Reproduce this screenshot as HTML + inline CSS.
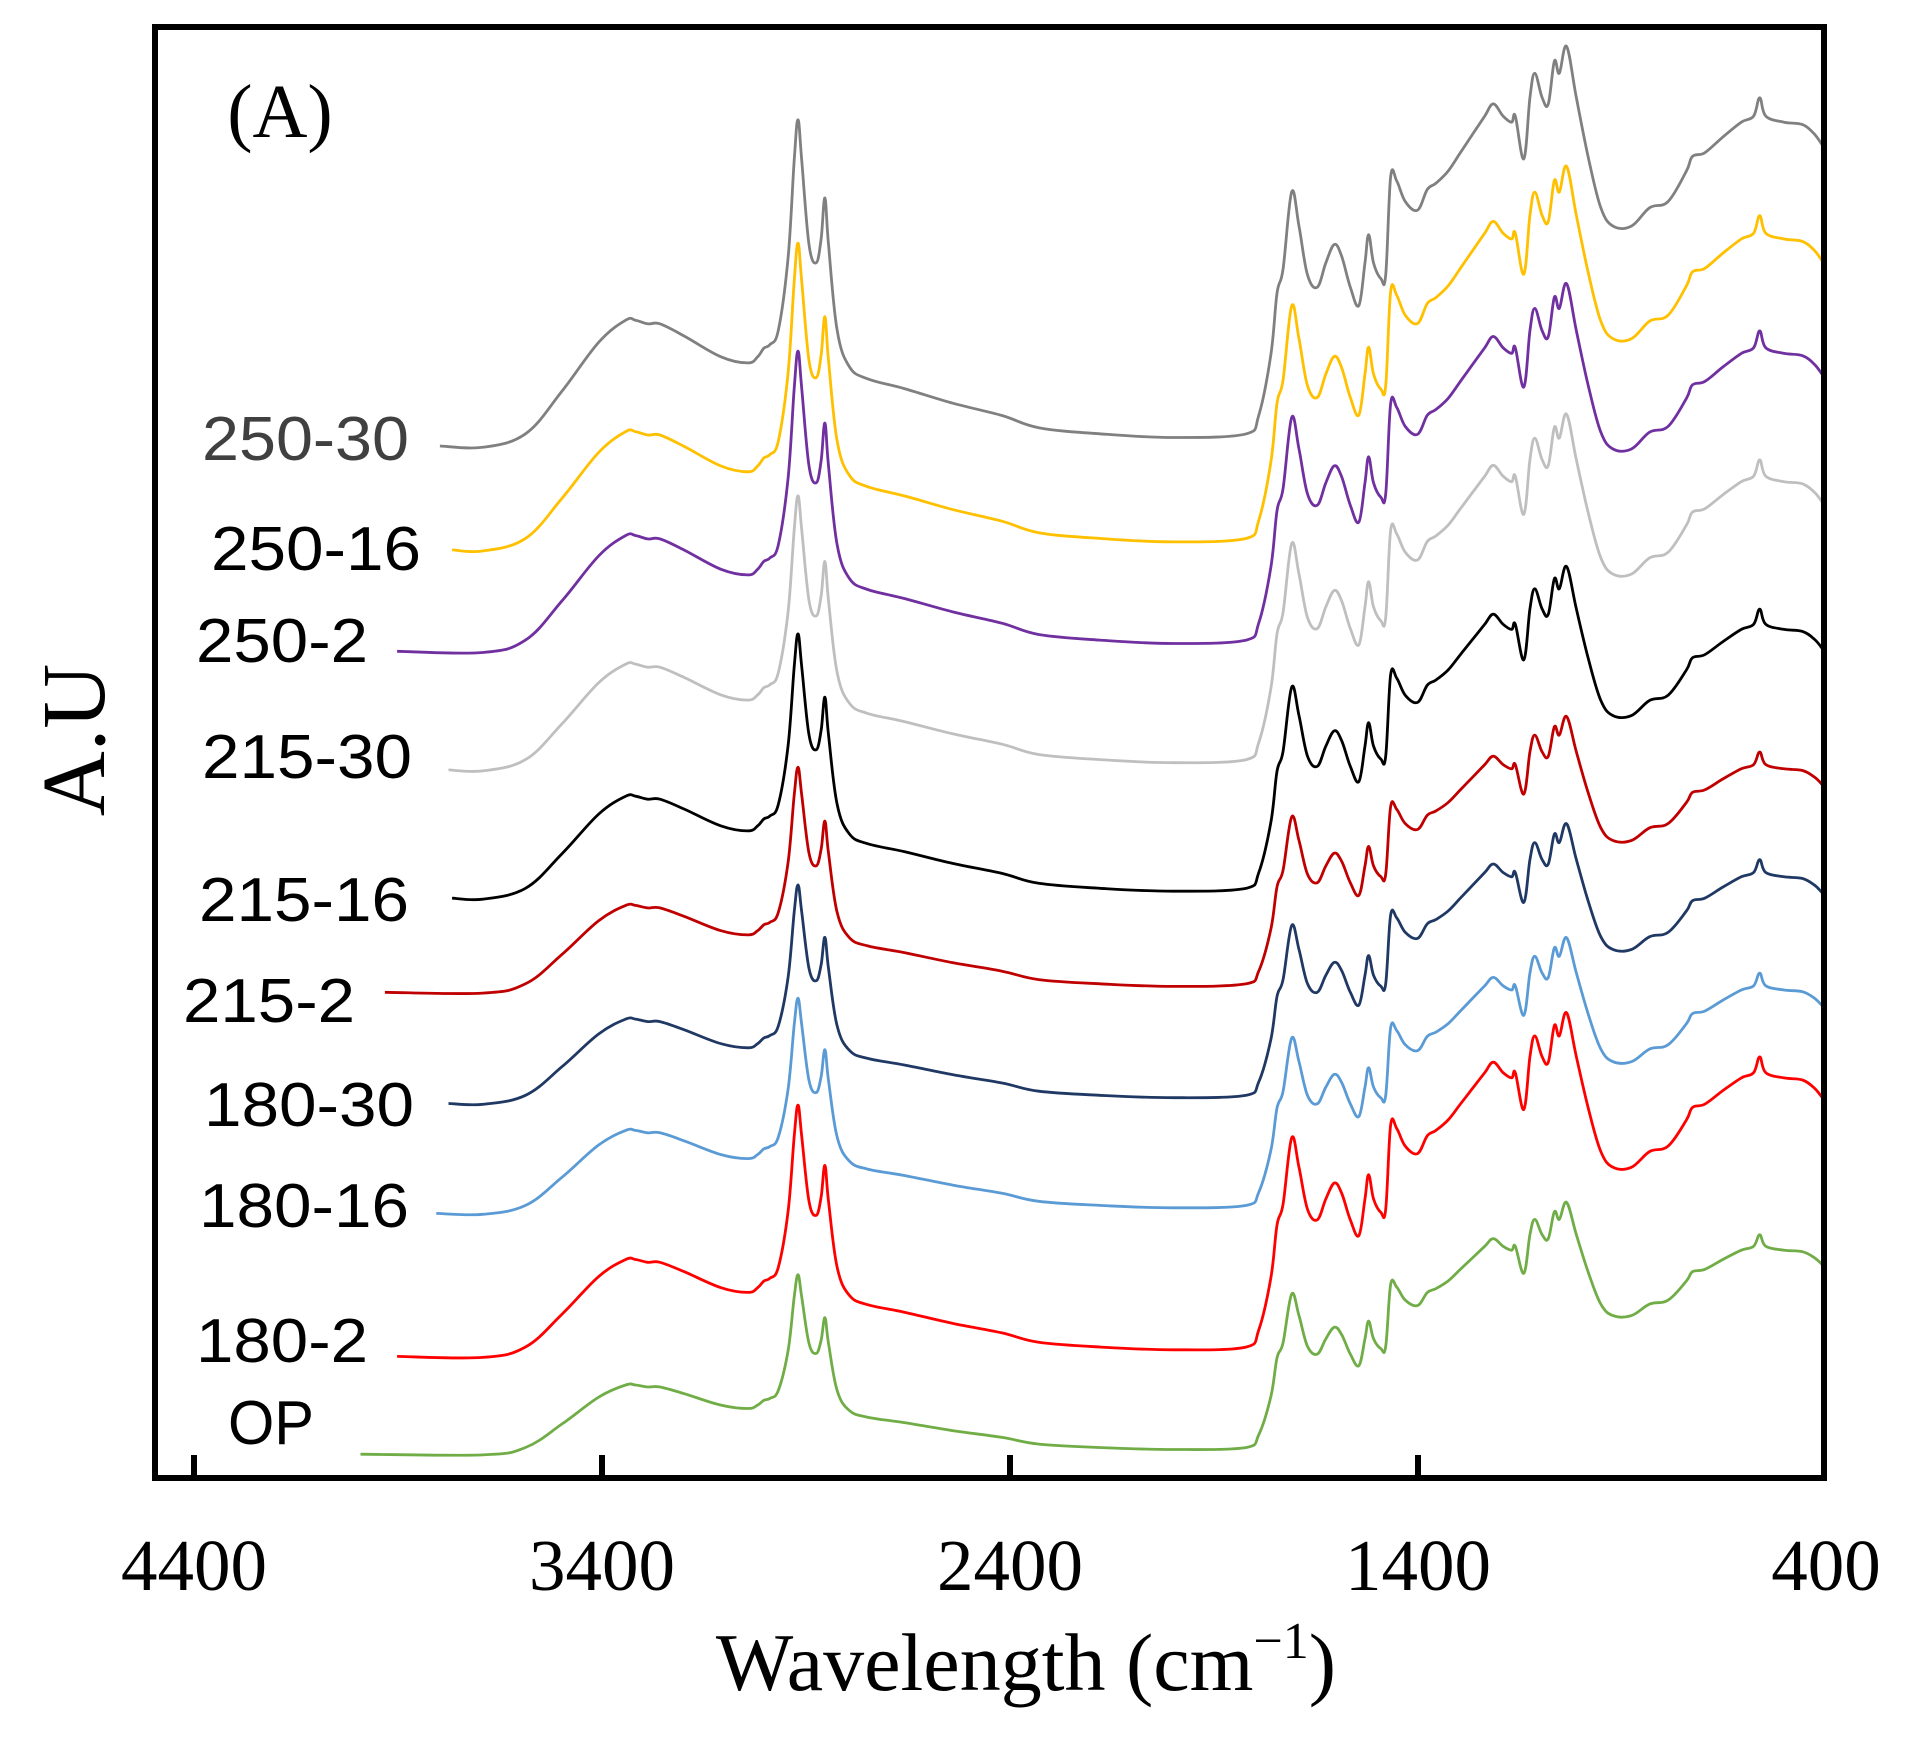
<!DOCTYPE html>
<html><head><meta charset="utf-8"><style>
html,body{margin:0;padding:0;background:#fff;}
svg{display:block;}
</style></head><body>
<svg id="s" width="1917" height="1742" viewBox="0 0 1917 1742" xmlns="http://www.w3.org/2000/svg">
<rect x="0" y="0" width="1917" height="1742" fill="#fff"/>
<g id="curves" fill="none" stroke-width="2.8" stroke-linejoin="round"></g>
<rect x="155" y="27" width="1669" height="1451" fill="none" stroke="#000" stroke-width="6"/>
<g stroke="#000" stroke-width="6">
<line x1="194" y1="1478" x2="194" y2="1455"/>
<line x1="602" y1="1478" x2="602" y2="1455"/>
<line x1="1010" y1="1478" x2="1010" y2="1455"/>
<line x1="1418" y1="1478" x2="1418" y2="1455"/>
</g>
<g font-family="'Liberation Serif',serif" font-size="73" text-anchor="middle" fill="#000">
<text x="194" y="1590">4400</text>
<text x="602" y="1590">3400</text>
<text x="1010" y="1590">2400</text>
<text x="1418" y="1590">1400</text>
<text x="1826" y="1590">400</text>
<text x="1026" y="1690" font-size="82">Wavelength (cm<tspan font-size="52" dy="-32">−1</tspan><tspan dy="32">)</tspan></text>
<text x="280" y="137" font-size="76">(A)</text>
<text transform="translate(104,740) rotate(-90)" x="0" y="0" font-size="90">A.U</text>
</g>
<g font-family="'Liberation Sans',sans-serif" font-size="62" fill="#000">
<text x="202" y="460" fill="#404040" textLength="207" lengthAdjust="spacingAndGlyphs">250-30</text>
<text x="211" y="570" textLength="210" lengthAdjust="spacingAndGlyphs">250-16</text>
<text x="196" y="662" textLength="172" lengthAdjust="spacingAndGlyphs">250-2</text>
<text x="202" y="778" textLength="210" lengthAdjust="spacingAndGlyphs">215-30</text>
<text x="199" y="921" textLength="210" lengthAdjust="spacingAndGlyphs">215-16</text>
<text x="183" y="1022" textLength="172" lengthAdjust="spacingAndGlyphs">215-2</text>
<text x="204" y="1126" textLength="210" lengthAdjust="spacingAndGlyphs">180-30</text>
<text x="199" y="1227" textLength="210" lengthAdjust="spacingAndGlyphs">180-16</text>
<text x="196" y="1362" textLength="172" lengthAdjust="spacingAndGlyphs">180-2</text>
<text x="228" y="1444" textLength="86" lengthAdjust="spacingAndGlyphs">OP</text>
</g>
</svg>
<script>
var shape=[[395,366],[430,355],[460,320],[490,280],[512,262],[520,262],[530,265],[540,265],[560,275],[590,292],[612,297],[620,292],[625,285],[630,282],[637,270],[645,210],[650,130],[653,98],[656,130],[662,200],[668,215],[672,195],[675,162],[678,200],[685,270],[695,300],[710,310],[740,318],[780,330],[820,340],[850,350],[900,355],[960,358],[1020,355],[1030,340],[1040,290],[1045,240],[1050,220],[1057,157],[1063,185],[1070,225],[1078,235],[1085,215],[1092,200],[1098,210],[1105,235],[1112,250],[1117,215],[1120,192],[1124,215],[1130,228],[1134,225],[1138,145],[1143,148],[1150,165],[1160,172],[1168,155],[1175,150],[1185,140],[1195,125],[1205,110],[1215,95],[1222,85],[1230,95],[1237,100],[1240,95],[1247,130],[1252,80],[1256,60],[1262,80],[1267,85],[1272,50],[1276,60],[1282,38],[1290,80],[1300,130],[1310,170],[1320,185],[1335,185],[1350,170],[1365,165],[1380,140],[1385,128],[1395,125],[1410,112],[1425,100],[1435,95],[1440,80],[1445,95],[1460,100],[1475,102],[1485,110],[1492,120]];
var curves=[
["#808080",360,365,1,1],
["#FFC000",370,450,0.94,0.96],
["#7030A0",325,533,0.92,0.92],
["#BFBFBF",367,630,0.84,0.89],
["#000000",370,735,0.81,0.83],
["#C00000",315,812,0.69,0.69],
["#203864",367,903,0.67,0.70],
["#5B9BD5",357,993,0.66,0.69],
["#FF0000",325,1110,0.77,0.86],
["#70AD47",295,1190,0.55,0.63]];
var k=1.222,g=document.getElementById('curves'),html='';
curves.forEach(function(c){
 var pts=[[c[1]*k,c[2]*k]];
 shape.forEach(function(p){
  var s=p[0]<1030?c[3]:c[4];
  pts.push([p[0]*k,(c[2]+(p[1]-365)*s)*k]);
 });
 var d='M'+pts[0][0].toFixed(1)+','+pts[0][1].toFixed(1);
 for(var i=0;i<pts.length-1;i++){
  var p0=pts[i>0?i-1:i],p1=pts[i],p2=pts[i+1],p3=pts[i+2<pts.length?i+2:i+1];
  var t=0.18;
  var c1x=p1[0]+(p2[0]-p0[0])*t,c1y=p1[1]+(p2[1]-p0[1])*t;
  var c2x=p2[0]-(p3[0]-p1[0])*t,c2y=p2[1]-(p3[1]-p1[1])*t;
  c1x=Math.min(Math.max(c1x,p1[0]),p2[0]);c2x=Math.min(Math.max(c2x,p1[0]),p2[0]);
  d+=' C'+c1x.toFixed(1)+','+c1y.toFixed(1)+' '+c2x.toFixed(1)+','+c2y.toFixed(1)+' '+p2[0].toFixed(1)+','+p2[1].toFixed(1);
 }
 html+='<path d="'+d+'" stroke="'+c[0]+'"/>';
});
g.innerHTML=html;
</script>
</body></html>
